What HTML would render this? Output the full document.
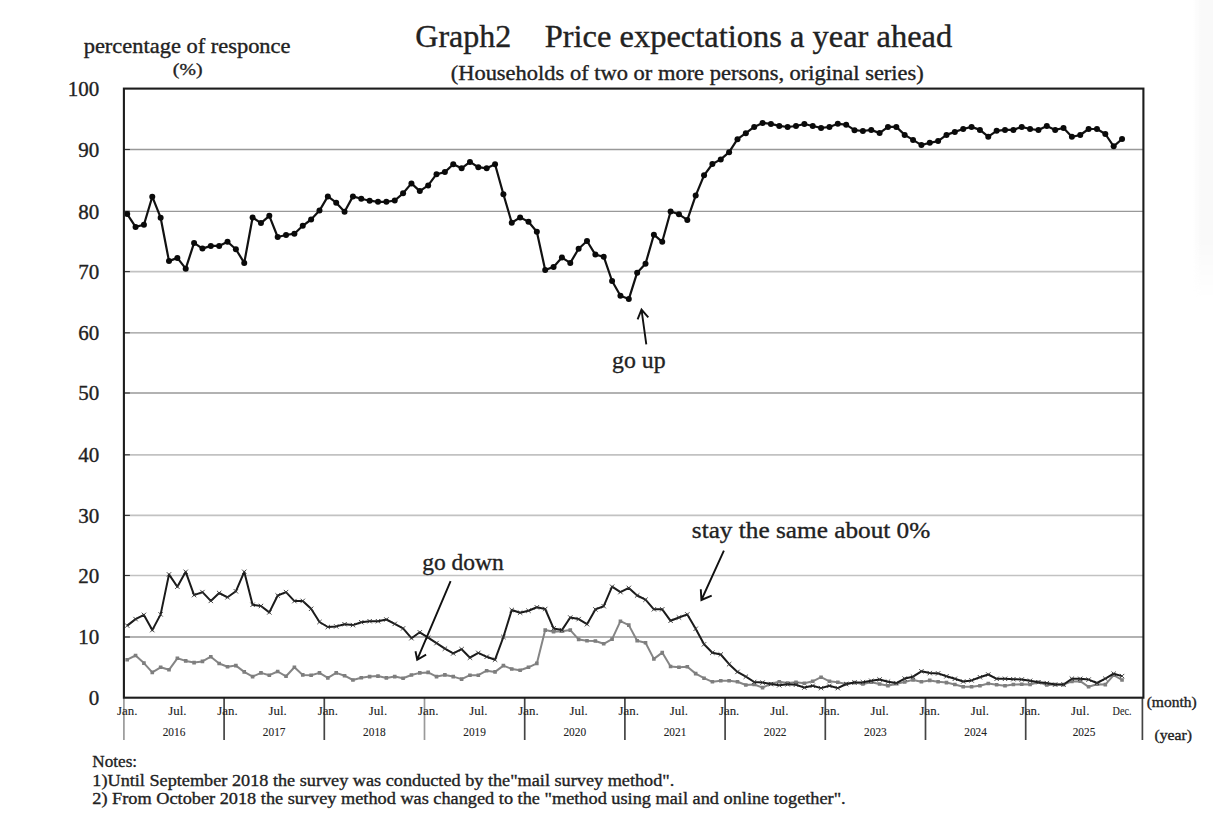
<!DOCTYPE html>
<html><head><meta charset="utf-8"><style>
html,body{margin:0;padding:0;background:#fff;}
body{width:1213px;height:829px;overflow:hidden;}
svg{display:block;}
text{font-family:"Liberation Serif",serif;}
</style></head><body>
<svg width="1213" height="829" viewBox="0 0 1213 829">
<defs><linearGradient id="bandg" x1="0" y1="0" x2="1" y2="0"><stop offset="0" stop-color="#f9f9f9" stop-opacity="0"/><stop offset="0.4" stop-color="#f9f9f9" stop-opacity="1"/><stop offset="1" stop-color="#f9f9f9"/></linearGradient><linearGradient id="bandv" x1="0" y1="0" x2="0" y2="1"><stop offset="0" stop-color="#fff" stop-opacity="1"/><stop offset="0.8" stop-color="#fff" stop-opacity="1"/><stop offset="1" stop-color="#fff" stop-opacity="0"/></linearGradient><mask id="bandm"><rect x="1190" y="0" width="23" height="300" fill="url(#bandv)"/></mask></defs>
<rect x="1193" y="0" width="20" height="300" fill="url(#bandg)" mask="url(#bandm)"/>
<line x1="123.9" y1="637.00" x2="1143.4" y2="637.00" stroke="#999" stroke-width="1.3"/>
<line x1="123.9" y1="637.00" x2="129.9" y2="637.00" stroke="#333" stroke-width="1.1"/>
<line x1="123.9" y1="575.50" x2="1143.4" y2="575.50" stroke="#c2c2c2" stroke-width="1.7"/>
<line x1="123.9" y1="575.50" x2="129.9" y2="575.50" stroke="#333" stroke-width="1.1"/>
<line x1="123.9" y1="515.40" x2="1143.4" y2="515.40" stroke="#c2c2c2" stroke-width="1.7"/>
<line x1="123.9" y1="515.40" x2="129.9" y2="515.40" stroke="#333" stroke-width="1.1"/>
<line x1="123.9" y1="454.80" x2="1143.4" y2="454.80" stroke="#c2c2c2" stroke-width="1.7"/>
<line x1="123.9" y1="454.80" x2="129.9" y2="454.80" stroke="#333" stroke-width="1.1"/>
<line x1="123.9" y1="393.00" x2="1143.4" y2="393.00" stroke="#999" stroke-width="1.3"/>
<line x1="123.9" y1="393.00" x2="129.9" y2="393.00" stroke="#333" stroke-width="1.1"/>
<line x1="123.9" y1="332.80" x2="1143.4" y2="332.80" stroke="#999" stroke-width="1.3"/>
<line x1="123.9" y1="332.80" x2="129.9" y2="332.80" stroke="#333" stroke-width="1.1"/>
<line x1="123.9" y1="271.60" x2="1143.4" y2="271.60" stroke="#c2c2c2" stroke-width="1.7"/>
<line x1="123.9" y1="271.60" x2="129.9" y2="271.60" stroke="#333" stroke-width="1.1"/>
<line x1="123.9" y1="211.30" x2="1143.4" y2="211.30" stroke="#999" stroke-width="1.3"/>
<line x1="123.9" y1="211.30" x2="129.9" y2="211.30" stroke="#333" stroke-width="1.1"/>
<line x1="123.9" y1="149.50" x2="1143.4" y2="149.50" stroke="#999" stroke-width="1.3"/>
<line x1="123.9" y1="149.50" x2="129.9" y2="149.50" stroke="#333" stroke-width="1.1"/>
<line x1="123.90" y1="697.7" x2="123.90" y2="740" stroke="#9a9a9a" stroke-width="1.7"/>
<line x1="224.10" y1="697.7" x2="224.10" y2="740" stroke="#444" stroke-width="1.7"/>
<line x1="324.30" y1="697.7" x2="324.30" y2="740" stroke="#444" stroke-width="1.7"/>
<line x1="424.50" y1="697.7" x2="424.50" y2="740" stroke="#9a9a9a" stroke-width="1.7"/>
<line x1="524.70" y1="697.7" x2="524.70" y2="740" stroke="#444" stroke-width="1.7"/>
<line x1="624.90" y1="697.7" x2="624.90" y2="740" stroke="#444" stroke-width="1.7"/>
<line x1="725.10" y1="697.7" x2="725.10" y2="740" stroke="#444" stroke-width="1.7"/>
<line x1="825.30" y1="697.7" x2="825.30" y2="740" stroke="#444" stroke-width="1.7"/>
<line x1="925.50" y1="697.7" x2="925.50" y2="740" stroke="#444" stroke-width="1.7"/>
<line x1="1025.70" y1="697.7" x2="1025.70" y2="740" stroke="#444" stroke-width="1.7"/>
<line x1="1142.40" y1="697.7" x2="1142.40" y2="740" stroke="#444" stroke-width="1.7"/>
<polyline points="127.20,659.70 135.56,655.50 143.92,663.10 152.28,672.40 160.64,667.30 169.00,669.80 177.36,658.30 185.72,660.90 194.08,662.60 202.44,661.40 210.80,656.70 219.16,663.50 227.52,666.80 235.88,665.60 244.24,671.90 252.60,676.60 260.96,672.90 269.32,675.20 277.68,671.50 286.04,676.30 294.40,667.30 302.76,674.90 311.12,675.20 319.48,672.90 327.84,677.90 336.20,672.90 344.56,675.70 352.92,680.00 361.28,677.80 369.64,676.60 378.00,676.10 386.36,677.90 394.72,676.60 403.08,678.30 411.44,675.00 419.80,672.90 428.16,672.40 436.52,676.60 444.88,674.90 453.24,676.60 461.60,679.10 469.96,675.20 478.32,675.20 486.68,670.70 495.04,671.90 503.40,665.60 511.76,669.00 520.12,670.20 528.48,667.30 536.84,663.40 545.20,630.10 553.56,631.80 561.92,631.30 570.28,630.10 578.64,639.40 587.00,640.80 595.36,641.00 603.72,643.80 612.08,639.10 620.44,621.20 628.80,625.10 637.16,640.80 645.52,642.80 653.88,658.90 662.24,652.60 670.60,666.50 678.96,667.30 687.32,666.80 695.68,673.60 704.04,678.20 712.40,681.80 720.76,680.80 729.12,680.80 737.48,681.70 745.84,685.00 754.20,684.50 762.56,687.60 770.92,683.80 779.28,681.70 787.64,683.00 796.00,682.20 804.36,683.30 812.72,681.30 821.08,677.20 829.44,681.30 837.80,682.20 846.16,684.00 854.52,682.60 862.88,684.00 871.24,682.20 879.60,684.00 887.96,685.80 896.32,683.70 904.68,682.00 913.04,679.90 921.40,681.70 929.76,680.40 938.12,681.70 946.48,682.60 954.84,684.50 963.20,686.70 971.56,686.70 979.92,685.80 988.28,683.50 996.64,684.70 1005.00,685.80 1013.36,684.50 1021.72,684.30 1030.08,684.50 1038.44,682.20 1046.80,684.90 1055.16,684.50 1063.52,684.60 1071.88,681.40 1080.24,681.20 1088.60,686.80 1096.96,684.30 1105.32,684.60 1113.68,675.10 1122.04,680.00" fill="none" stroke="#858585" stroke-width="2.0" stroke-linejoin="round"/>
<path d="M125.40,657.90h3.6v3.6h-3.6zM133.76,653.70h3.6v3.6h-3.6zM142.12,661.30h3.6v3.6h-3.6zM150.48,670.60h3.6v3.6h-3.6zM158.84,665.50h3.6v3.6h-3.6zM167.20,668.00h3.6v3.6h-3.6zM175.56,656.50h3.6v3.6h-3.6zM183.92,659.10h3.6v3.6h-3.6zM192.28,660.80h3.6v3.6h-3.6zM200.64,659.60h3.6v3.6h-3.6zM209.00,654.90h3.6v3.6h-3.6zM217.36,661.70h3.6v3.6h-3.6zM225.72,665.00h3.6v3.6h-3.6zM234.08,663.80h3.6v3.6h-3.6zM242.44,670.10h3.6v3.6h-3.6zM250.80,674.80h3.6v3.6h-3.6zM259.16,671.10h3.6v3.6h-3.6zM267.52,673.40h3.6v3.6h-3.6zM275.88,669.70h3.6v3.6h-3.6zM284.24,674.50h3.6v3.6h-3.6zM292.60,665.50h3.6v3.6h-3.6zM300.96,673.10h3.6v3.6h-3.6zM309.32,673.40h3.6v3.6h-3.6zM317.68,671.10h3.6v3.6h-3.6zM326.04,676.10h3.6v3.6h-3.6zM334.40,671.10h3.6v3.6h-3.6zM342.76,673.90h3.6v3.6h-3.6zM351.12,678.20h3.6v3.6h-3.6zM359.48,676.00h3.6v3.6h-3.6zM367.84,674.80h3.6v3.6h-3.6zM376.20,674.30h3.6v3.6h-3.6zM384.56,676.10h3.6v3.6h-3.6zM392.92,674.80h3.6v3.6h-3.6zM401.28,676.50h3.6v3.6h-3.6zM409.64,673.20h3.6v3.6h-3.6zM418.00,671.10h3.6v3.6h-3.6zM426.36,670.60h3.6v3.6h-3.6zM434.72,674.80h3.6v3.6h-3.6zM443.08,673.10h3.6v3.6h-3.6zM451.44,674.80h3.6v3.6h-3.6zM459.80,677.30h3.6v3.6h-3.6zM468.16,673.40h3.6v3.6h-3.6zM476.52,673.40h3.6v3.6h-3.6zM484.88,668.90h3.6v3.6h-3.6zM493.24,670.10h3.6v3.6h-3.6zM501.60,663.80h3.6v3.6h-3.6zM509.96,667.20h3.6v3.6h-3.6zM518.32,668.40h3.6v3.6h-3.6zM526.68,665.50h3.6v3.6h-3.6zM535.04,661.60h3.6v3.6h-3.6zM543.40,628.30h3.6v3.6h-3.6zM551.76,630.00h3.6v3.6h-3.6zM560.12,629.50h3.6v3.6h-3.6zM568.48,628.30h3.6v3.6h-3.6zM576.84,637.60h3.6v3.6h-3.6zM585.20,639.00h3.6v3.6h-3.6zM593.56,639.20h3.6v3.6h-3.6zM601.92,642.00h3.6v3.6h-3.6zM610.28,637.30h3.6v3.6h-3.6zM618.64,619.40h3.6v3.6h-3.6zM627.00,623.30h3.6v3.6h-3.6zM635.36,639.00h3.6v3.6h-3.6zM643.72,641.00h3.6v3.6h-3.6zM652.08,657.10h3.6v3.6h-3.6zM660.44,650.80h3.6v3.6h-3.6zM668.80,664.70h3.6v3.6h-3.6zM677.16,665.50h3.6v3.6h-3.6zM685.52,665.00h3.6v3.6h-3.6zM693.88,671.80h3.6v3.6h-3.6zM702.24,676.40h3.6v3.6h-3.6zM710.60,680.00h3.6v3.6h-3.6zM718.96,679.00h3.6v3.6h-3.6zM727.32,679.00h3.6v3.6h-3.6zM735.68,679.90h3.6v3.6h-3.6zM744.04,683.20h3.6v3.6h-3.6zM752.40,682.70h3.6v3.6h-3.6zM760.76,685.80h3.6v3.6h-3.6zM769.12,682.00h3.6v3.6h-3.6zM777.48,679.90h3.6v3.6h-3.6zM785.84,681.20h3.6v3.6h-3.6zM794.20,680.40h3.6v3.6h-3.6zM802.56,681.50h3.6v3.6h-3.6zM810.92,679.50h3.6v3.6h-3.6zM819.28,675.40h3.6v3.6h-3.6zM827.64,679.50h3.6v3.6h-3.6zM836.00,680.40h3.6v3.6h-3.6zM844.36,682.20h3.6v3.6h-3.6zM852.72,680.80h3.6v3.6h-3.6zM861.08,682.20h3.6v3.6h-3.6zM869.44,680.40h3.6v3.6h-3.6zM877.80,682.20h3.6v3.6h-3.6zM886.16,684.00h3.6v3.6h-3.6zM894.52,681.90h3.6v3.6h-3.6zM902.88,680.20h3.6v3.6h-3.6zM911.24,678.10h3.6v3.6h-3.6zM919.60,679.90h3.6v3.6h-3.6zM927.96,678.60h3.6v3.6h-3.6zM936.32,679.90h3.6v3.6h-3.6zM944.68,680.80h3.6v3.6h-3.6zM953.04,682.70h3.6v3.6h-3.6zM961.40,684.90h3.6v3.6h-3.6zM969.76,684.90h3.6v3.6h-3.6zM978.12,684.00h3.6v3.6h-3.6zM986.48,681.70h3.6v3.6h-3.6zM994.84,682.90h3.6v3.6h-3.6zM1003.20,684.00h3.6v3.6h-3.6zM1011.56,682.70h3.6v3.6h-3.6zM1019.92,682.50h3.6v3.6h-3.6zM1028.28,682.70h3.6v3.6h-3.6zM1036.64,680.40h3.6v3.6h-3.6zM1045.00,683.10h3.6v3.6h-3.6zM1053.36,682.70h3.6v3.6h-3.6zM1061.72,682.80h3.6v3.6h-3.6zM1070.08,679.60h3.6v3.6h-3.6zM1078.44,679.40h3.6v3.6h-3.6zM1086.80,685.00h3.6v3.6h-3.6zM1095.16,682.50h3.6v3.6h-3.6zM1103.52,682.80h3.6v3.6h-3.6zM1111.88,673.30h3.6v3.6h-3.6zM1120.24,678.20h3.6v3.6h-3.6z" fill="#7e7e7e"/>
<polyline points="127.20,625.60 135.56,619.10 143.92,614.90 152.28,630.10 160.64,614.40 169.00,574.40 177.36,586.70 185.72,571.80 194.08,595.10 202.44,592.10 210.80,600.90 219.16,593.00 227.52,597.30 235.88,591.30 244.24,571.80 252.60,604.80 260.96,606.00 269.32,612.40 277.68,595.50 286.04,592.10 294.40,601.10 302.76,600.90 311.12,608.80 319.48,622.00 327.84,627.00 336.20,626.40 344.56,624.20 352.92,625.10 361.28,622.20 369.64,621.20 378.00,621.20 386.36,619.50 394.72,623.90 403.08,628.40 411.44,638.20 419.80,632.30 428.16,637.70 436.52,643.10 444.88,648.70 453.24,653.40 461.60,649.20 469.96,657.70 478.32,652.90 486.68,656.80 495.04,659.70 503.40,637.00 511.76,610.00 520.12,612.70 528.48,610.70 536.84,607.30 545.20,609.00 553.56,628.40 561.92,630.10 570.28,617.50 578.64,619.10 587.00,624.20 595.36,609.40 603.72,606.20 612.08,586.70 620.44,592.10 628.80,587.90 637.16,595.50 645.52,599.70 653.88,609.30 662.24,609.30 670.60,620.80 678.96,617.50 687.32,614.40 695.68,628.80 704.04,644.30 712.40,652.70 720.76,654.50 729.12,664.20 737.48,671.90 745.84,676.70 754.20,682.00 762.56,682.60 770.92,684.10 779.28,685.30 787.64,684.30 796.00,684.70 804.36,687.60 812.72,685.80 821.08,688.10 829.44,685.80 837.80,688.10 846.16,684.00 854.52,682.50 862.88,682.20 871.24,680.80 879.60,679.50 887.96,681.70 896.32,683.10 904.68,678.60 913.04,676.70 921.40,671.30 929.76,673.10 938.12,673.40 946.48,676.30 954.84,678.80 963.20,681.50 971.56,680.40 979.92,677.20 988.28,674.50 996.64,678.80 1005.00,678.80 1013.36,679.20 1021.72,679.50 1030.08,680.80 1038.44,682.20 1046.80,683.10 1055.16,684.60 1063.52,684.50 1071.88,678.70 1080.24,678.80 1088.60,679.60 1096.96,683.00 1105.32,678.70 1113.68,673.70 1122.04,676.10" fill="none" stroke="#1a1a1a" stroke-width="2.0" stroke-linejoin="round"/>
<path d="M125.00,623.40L129.40,627.80M125.00,627.80L129.40,623.40M133.36,616.90L137.76,621.30M133.36,621.30L137.76,616.90M141.72,612.70L146.12,617.10M141.72,617.10L146.12,612.70M150.08,627.90L154.48,632.30M150.08,632.30L154.48,627.90M158.44,612.20L162.84,616.60M158.44,616.60L162.84,612.20M166.80,572.20L171.20,576.60M166.80,576.60L171.20,572.20M175.16,584.50L179.56,588.90M175.16,588.90L179.56,584.50M183.52,569.60L187.92,574.00M183.52,574.00L187.92,569.60M191.88,592.90L196.28,597.30M191.88,597.30L196.28,592.90M200.24,589.90L204.64,594.30M200.24,594.30L204.64,589.90M208.60,598.70L213.00,603.10M208.60,603.10L213.00,598.70M216.96,590.80L221.36,595.20M216.96,595.20L221.36,590.80M225.32,595.10L229.72,599.50M225.32,599.50L229.72,595.10M233.68,589.10L238.08,593.50M233.68,593.50L238.08,589.10M242.04,569.60L246.44,574.00M242.04,574.00L246.44,569.60M250.40,602.60L254.80,607.00M250.40,607.00L254.80,602.60M258.76,603.80L263.16,608.20M258.76,608.20L263.16,603.80M267.12,610.20L271.52,614.60M267.12,614.60L271.52,610.20M275.48,593.30L279.88,597.70M275.48,597.70L279.88,593.30M283.84,589.90L288.24,594.30M283.84,594.30L288.24,589.90M292.20,598.90L296.60,603.30M292.20,603.30L296.60,598.90M300.56,598.70L304.96,603.10M300.56,603.10L304.96,598.70M308.92,606.60L313.32,611.00M308.92,611.00L313.32,606.60M317.28,619.80L321.68,624.20M317.28,624.20L321.68,619.80M325.64,624.80L330.04,629.20M325.64,629.20L330.04,624.80M334.00,624.20L338.40,628.60M334.00,628.60L338.40,624.20M342.36,622.00L346.76,626.40M342.36,626.40L346.76,622.00M350.72,622.90L355.12,627.30M350.72,627.30L355.12,622.90M359.08,620.00L363.48,624.40M359.08,624.40L363.48,620.00M367.44,619.00L371.84,623.40M367.44,623.40L371.84,619.00M375.80,619.00L380.20,623.40M375.80,623.40L380.20,619.00M384.16,617.30L388.56,621.70M384.16,621.70L388.56,617.30M392.52,621.70L396.92,626.10M392.52,626.10L396.92,621.70M400.88,626.20L405.28,630.60M400.88,630.60L405.28,626.20M409.24,636.00L413.64,640.40M409.24,640.40L413.64,636.00M417.60,630.10L422.00,634.50M417.60,634.50L422.00,630.10M425.96,635.50L430.36,639.90M425.96,639.90L430.36,635.50M434.32,640.90L438.72,645.30M434.32,645.30L438.72,640.90M442.68,646.50L447.08,650.90M442.68,650.90L447.08,646.50M451.04,651.20L455.44,655.60M451.04,655.60L455.44,651.20M459.40,647.00L463.80,651.40M459.40,651.40L463.80,647.00M467.76,655.50L472.16,659.90M467.76,659.90L472.16,655.50M476.12,650.70L480.52,655.10M476.12,655.10L480.52,650.70M484.48,654.60L488.88,659.00M484.48,659.00L488.88,654.60M492.84,657.50L497.24,661.90M492.84,661.90L497.24,657.50M501.20,634.80L505.60,639.20M501.20,639.20L505.60,634.80M509.56,607.80L513.96,612.20M509.56,612.20L513.96,607.80M517.92,610.50L522.32,614.90M517.92,614.90L522.32,610.50M526.28,608.50L530.68,612.90M526.28,612.90L530.68,608.50M534.64,605.10L539.04,609.50M534.64,609.50L539.04,605.10M543.00,606.80L547.40,611.20M543.00,611.20L547.40,606.80M551.36,626.20L555.76,630.60M551.36,630.60L555.76,626.20M559.72,627.90L564.12,632.30M559.72,632.30L564.12,627.90M568.08,615.30L572.48,619.70M568.08,619.70L572.48,615.30M576.44,616.90L580.84,621.30M576.44,621.30L580.84,616.90M584.80,622.00L589.20,626.40M584.80,626.40L589.20,622.00M593.16,607.20L597.56,611.60M593.16,611.60L597.56,607.20M601.52,604.00L605.92,608.40M601.52,608.40L605.92,604.00M609.88,584.50L614.28,588.90M609.88,588.90L614.28,584.50M618.24,589.90L622.64,594.30M618.24,594.30L622.64,589.90M626.60,585.70L631.00,590.10M626.60,590.10L631.00,585.70M634.96,593.30L639.36,597.70M634.96,597.70L639.36,593.30M643.32,597.50L647.72,601.90M643.32,601.90L647.72,597.50M651.68,607.10L656.08,611.50M651.68,611.50L656.08,607.10M660.04,607.10L664.44,611.50M660.04,611.50L664.44,607.10M668.40,618.60L672.80,623.00M668.40,623.00L672.80,618.60M676.76,615.30L681.16,619.70M676.76,619.70L681.16,615.30M685.12,612.20L689.52,616.60M685.12,616.60L689.52,612.20M693.48,626.60L697.88,631.00M693.48,631.00L697.88,626.60M701.84,642.10L706.24,646.50M701.84,646.50L706.24,642.10M710.20,650.50L714.60,654.90M710.20,654.90L714.60,650.50M718.56,652.30L722.96,656.70M718.56,656.70L722.96,652.30M726.92,662.00L731.32,666.40M726.92,666.40L731.32,662.00M735.28,669.70L739.68,674.10M735.28,674.10L739.68,669.70M743.64,674.50L748.04,678.90M743.64,678.90L748.04,674.50M752.00,679.80L756.40,684.20M752.00,684.20L756.40,679.80M760.36,680.40L764.76,684.80M760.36,684.80L764.76,680.40M768.72,681.90L773.12,686.30M768.72,686.30L773.12,681.90M777.08,683.10L781.48,687.50M777.08,687.50L781.48,683.10M785.44,682.10L789.84,686.50M785.44,686.50L789.84,682.10M793.80,682.50L798.20,686.90M793.80,686.90L798.20,682.50M802.16,685.40L806.56,689.80M802.16,689.80L806.56,685.40M810.52,683.60L814.92,688.00M810.52,688.00L814.92,683.60M818.88,685.90L823.28,690.30M818.88,690.30L823.28,685.90M827.24,683.60L831.64,688.00M827.24,688.00L831.64,683.60M835.60,685.90L840.00,690.30M835.60,690.30L840.00,685.90M843.96,681.80L848.36,686.20M843.96,686.20L848.36,681.80M852.32,680.30L856.72,684.70M852.32,684.70L856.72,680.30M860.68,680.00L865.08,684.40M860.68,684.40L865.08,680.00M869.04,678.60L873.44,683.00M869.04,683.00L873.44,678.60M877.40,677.30L881.80,681.70M877.40,681.70L881.80,677.30M885.76,679.50L890.16,683.90M885.76,683.90L890.16,679.50M894.12,680.90L898.52,685.30M894.12,685.30L898.52,680.90M902.48,676.40L906.88,680.80M902.48,680.80L906.88,676.40M910.84,674.50L915.24,678.90M910.84,678.90L915.24,674.50M919.20,669.10L923.60,673.50M919.20,673.50L923.60,669.10M927.56,670.90L931.96,675.30M927.56,675.30L931.96,670.90M935.92,671.20L940.32,675.60M935.92,675.60L940.32,671.20M944.28,674.10L948.68,678.50M944.28,678.50L948.68,674.10M952.64,676.60L957.04,681.00M952.64,681.00L957.04,676.60M961.00,679.30L965.40,683.70M961.00,683.70L965.40,679.30M969.36,678.20L973.76,682.60M969.36,682.60L973.76,678.20M977.72,675.00L982.12,679.40M977.72,679.40L982.12,675.00M986.08,672.30L990.48,676.70M986.08,676.70L990.48,672.30M994.44,676.60L998.84,681.00M994.44,681.00L998.84,676.60M1002.80,676.60L1007.20,681.00M1002.80,681.00L1007.20,676.60M1011.16,677.00L1015.56,681.40M1011.16,681.40L1015.56,677.00M1019.52,677.30L1023.92,681.70M1019.52,681.70L1023.92,677.30M1027.88,678.60L1032.28,683.00M1027.88,683.00L1032.28,678.60M1036.24,680.00L1040.64,684.40M1036.24,684.40L1040.64,680.00M1044.60,680.90L1049.00,685.30M1044.60,685.30L1049.00,680.90M1052.96,682.40L1057.36,686.80M1052.96,686.80L1057.36,682.40M1061.32,682.30L1065.72,686.70M1061.32,686.70L1065.72,682.30M1069.68,676.50L1074.08,680.90M1069.68,680.90L1074.08,676.50M1078.04,676.60L1082.44,681.00M1078.04,681.00L1082.44,676.60M1086.40,677.40L1090.80,681.80M1086.40,681.80L1090.80,677.40M1094.76,680.80L1099.16,685.20M1094.76,685.20L1099.16,680.80M1103.12,676.50L1107.52,680.90M1103.12,680.90L1107.52,676.50M1111.48,671.50L1115.88,675.90M1111.48,675.90L1115.88,671.50M1119.84,673.90L1124.24,678.30M1119.84,678.30L1124.24,673.90" stroke="#333" stroke-width="0.9" fill="none"/>
<polyline points="127.20,214.10 135.56,226.90 143.92,224.70 152.28,196.70 160.64,217.70 169.00,261.10 177.36,257.90 185.72,268.70 194.08,242.90 202.44,248.60 210.80,245.90 219.16,245.90 227.52,241.70 235.88,249.20 244.24,262.90 252.60,217.50 260.96,223.10 269.32,215.80 277.68,237.00 286.04,235.00 294.40,233.70 302.76,225.80 311.12,219.50 319.48,210.60 327.84,196.40 336.20,202.70 344.56,211.70 352.92,196.40 361.28,198.70 369.64,200.70 378.00,201.80 386.36,201.80 394.72,200.50 403.08,193.30 411.44,183.40 419.80,191.10 428.16,185.40 436.52,174.20 444.88,172.10 453.24,164.20 461.60,168.30 469.96,161.90 478.32,167.20 486.68,168.30 495.04,164.20 503.40,194.30 511.76,222.70 520.12,217.40 528.48,221.80 536.84,231.80 545.20,270.00 553.56,266.90 561.92,257.60 570.28,262.90 578.64,248.70 587.00,241.00 595.36,254.60 603.72,256.70 612.08,281.00 620.44,295.80 628.80,299.10 637.16,272.70 645.52,263.80 653.88,234.70 662.24,241.80 670.60,211.50 678.96,214.30 687.32,219.90 695.68,195.60 704.04,175.30 712.40,164.00 720.76,159.40 729.12,152.20 737.48,139.20 745.84,133.20 754.20,126.90 762.56,122.90 770.92,123.90 779.28,125.90 787.64,127.00 796.00,126.00 804.36,124.00 812.72,126.00 821.08,127.90 829.44,127.00 837.80,123.80 846.16,124.70 854.52,130.20 862.88,131.00 871.24,129.90 879.60,133.10 887.96,126.90 896.32,126.90 904.68,134.90 913.04,139.90 921.40,145.10 929.76,142.80 938.12,141.10 946.48,134.90 954.84,131.90 963.20,129.00 971.56,126.90 979.92,129.90 988.28,136.70 996.64,130.80 1005.00,129.90 1013.36,129.90 1021.72,126.90 1030.08,129.00 1038.44,130.10 1046.80,125.90 1055.16,129.90 1063.52,128.00 1071.88,136.80 1080.24,135.00 1088.60,129.00 1096.96,129.00 1105.32,134.00 1113.68,146.30 1122.04,139.00" fill="none" stroke="#111" stroke-width="2.2" stroke-linejoin="round"/>
<g fill="#0a0a0a"><circle cx="127.20" cy="214.10" r="3"/><circle cx="135.56" cy="226.90" r="3"/><circle cx="143.92" cy="224.70" r="3"/><circle cx="152.28" cy="196.70" r="3"/><circle cx="160.64" cy="217.70" r="3"/><circle cx="169.00" cy="261.10" r="3"/><circle cx="177.36" cy="257.90" r="3"/><circle cx="185.72" cy="268.70" r="3"/><circle cx="194.08" cy="242.90" r="3"/><circle cx="202.44" cy="248.60" r="3"/><circle cx="210.80" cy="245.90" r="3"/><circle cx="219.16" cy="245.90" r="3"/><circle cx="227.52" cy="241.70" r="3"/><circle cx="235.88" cy="249.20" r="3"/><circle cx="244.24" cy="262.90" r="3"/><circle cx="252.60" cy="217.50" r="3"/><circle cx="260.96" cy="223.10" r="3"/><circle cx="269.32" cy="215.80" r="3"/><circle cx="277.68" cy="237.00" r="3"/><circle cx="286.04" cy="235.00" r="3"/><circle cx="294.40" cy="233.70" r="3"/><circle cx="302.76" cy="225.80" r="3"/><circle cx="311.12" cy="219.50" r="3"/><circle cx="319.48" cy="210.60" r="3"/><circle cx="327.84" cy="196.40" r="3"/><circle cx="336.20" cy="202.70" r="3"/><circle cx="344.56" cy="211.70" r="3"/><circle cx="352.92" cy="196.40" r="3"/><circle cx="361.28" cy="198.70" r="3"/><circle cx="369.64" cy="200.70" r="3"/><circle cx="378.00" cy="201.80" r="3"/><circle cx="386.36" cy="201.80" r="3"/><circle cx="394.72" cy="200.50" r="3"/><circle cx="403.08" cy="193.30" r="3"/><circle cx="411.44" cy="183.40" r="3"/><circle cx="419.80" cy="191.10" r="3"/><circle cx="428.16" cy="185.40" r="3"/><circle cx="436.52" cy="174.20" r="3"/><circle cx="444.88" cy="172.10" r="3"/><circle cx="453.24" cy="164.20" r="3"/><circle cx="461.60" cy="168.30" r="3"/><circle cx="469.96" cy="161.90" r="3"/><circle cx="478.32" cy="167.20" r="3"/><circle cx="486.68" cy="168.30" r="3"/><circle cx="495.04" cy="164.20" r="3"/><circle cx="503.40" cy="194.30" r="3"/><circle cx="511.76" cy="222.70" r="3"/><circle cx="520.12" cy="217.40" r="3"/><circle cx="528.48" cy="221.80" r="3"/><circle cx="536.84" cy="231.80" r="3"/><circle cx="545.20" cy="270.00" r="3"/><circle cx="553.56" cy="266.90" r="3"/><circle cx="561.92" cy="257.60" r="3"/><circle cx="570.28" cy="262.90" r="3"/><circle cx="578.64" cy="248.70" r="3"/><circle cx="587.00" cy="241.00" r="3"/><circle cx="595.36" cy="254.60" r="3"/><circle cx="603.72" cy="256.70" r="3"/><circle cx="612.08" cy="281.00" r="3"/><circle cx="620.44" cy="295.80" r="3"/><circle cx="628.80" cy="299.10" r="3"/><circle cx="637.16" cy="272.70" r="3"/><circle cx="645.52" cy="263.80" r="3"/><circle cx="653.88" cy="234.70" r="3"/><circle cx="662.24" cy="241.80" r="3"/><circle cx="670.60" cy="211.50" r="3"/><circle cx="678.96" cy="214.30" r="3"/><circle cx="687.32" cy="219.90" r="3"/><circle cx="695.68" cy="195.60" r="3"/><circle cx="704.04" cy="175.30" r="3"/><circle cx="712.40" cy="164.00" r="3"/><circle cx="720.76" cy="159.40" r="3"/><circle cx="729.12" cy="152.20" r="3"/><circle cx="737.48" cy="139.20" r="3"/><circle cx="745.84" cy="133.20" r="3"/><circle cx="754.20" cy="126.90" r="3"/><circle cx="762.56" cy="122.90" r="3"/><circle cx="770.92" cy="123.90" r="3"/><circle cx="779.28" cy="125.90" r="3"/><circle cx="787.64" cy="127.00" r="3"/><circle cx="796.00" cy="126.00" r="3"/><circle cx="804.36" cy="124.00" r="3"/><circle cx="812.72" cy="126.00" r="3"/><circle cx="821.08" cy="127.90" r="3"/><circle cx="829.44" cy="127.00" r="3"/><circle cx="837.80" cy="123.80" r="3"/><circle cx="846.16" cy="124.70" r="3"/><circle cx="854.52" cy="130.20" r="3"/><circle cx="862.88" cy="131.00" r="3"/><circle cx="871.24" cy="129.90" r="3"/><circle cx="879.60" cy="133.10" r="3"/><circle cx="887.96" cy="126.90" r="3"/><circle cx="896.32" cy="126.90" r="3"/><circle cx="904.68" cy="134.90" r="3"/><circle cx="913.04" cy="139.90" r="3"/><circle cx="921.40" cy="145.10" r="3"/><circle cx="929.76" cy="142.80" r="3"/><circle cx="938.12" cy="141.10" r="3"/><circle cx="946.48" cy="134.90" r="3"/><circle cx="954.84" cy="131.90" r="3"/><circle cx="963.20" cy="129.00" r="3"/><circle cx="971.56" cy="126.90" r="3"/><circle cx="979.92" cy="129.90" r="3"/><circle cx="988.28" cy="136.70" r="3"/><circle cx="996.64" cy="130.80" r="3"/><circle cx="1005.00" cy="129.90" r="3"/><circle cx="1013.36" cy="129.90" r="3"/><circle cx="1021.72" cy="126.90" r="3"/><circle cx="1030.08" cy="129.00" r="3"/><circle cx="1038.44" cy="130.10" r="3"/><circle cx="1046.80" cy="125.90" r="3"/><circle cx="1055.16" cy="129.90" r="3"/><circle cx="1063.52" cy="128.00" r="3"/><circle cx="1071.88" cy="136.80" r="3"/><circle cx="1080.24" cy="135.00" r="3"/><circle cx="1088.60" cy="129.00" r="3"/><circle cx="1096.96" cy="129.00" r="3"/><circle cx="1105.32" cy="134.00" r="3"/><circle cx="1113.68" cy="146.30" r="3"/><circle cx="1122.04" cy="139.00" r="3"/></g>
<rect x="123.9" y="88.6" width="1019.50" height="609.10" fill="none" stroke="#1c1c1c" stroke-width="2.1"/>
<path d="M646.3,344.4L641.5,309.6M637.6,319.3L641.5,309.6L648.3,317.4" stroke="#111" stroke-width="1.9" fill="none" stroke-linecap="butt" stroke-linejoin="miter"/>
<path d="M450.6,581.1L417.2,659.7M415.5,651.2L417.2,659.7L426.1,654.6" stroke="#111" stroke-width="1.9" fill="none" stroke-linecap="butt" stroke-linejoin="miter"/>
<path d="M723.9,550.7L701.4,600.0M700.8,589.3L701.4,600.0L711.7,595.7" stroke="#111" stroke-width="1.9" fill="none" stroke-linecap="butt" stroke-linejoin="miter"/>
<text x="415.30" y="47.20" font-size="31.2" textLength="96.00" lengthAdjust="spacingAndGlyphs" fill="#222" stroke="#222" stroke-width="0.35">Graph2</text>
<text x="544.70" y="47.20" font-size="31.2" textLength="407.59" lengthAdjust="spacingAndGlyphs" fill="#222" stroke="#222" stroke-width="0.35">Price expectations a year ahead</text>
<text x="450.70" y="79.80" font-size="20.6" textLength="473.11" lengthAdjust="spacingAndGlyphs" fill="#222" stroke="#222" stroke-width="0.35">(Households of two or more persons, original series)</text>
<text x="83.70" y="53.30" font-size="20.4" textLength="206.80" lengthAdjust="spacingAndGlyphs" fill="#222" stroke="#222" stroke-width="0.35">percentage of responce</text>
<text x="172.80" y="74.70" font-size="17.6" textLength="29.70" lengthAdjust="spacingAndGlyphs" fill="#222" stroke="#222" stroke-width="0.35">(%)</text>
<text x="88.80" y="704.90" font-size="21" textLength="10.50" lengthAdjust="spacingAndGlyphs" fill="#222" stroke="#222" stroke-width="0.35">0</text>
<text x="78.30" y="644.20" font-size="21" textLength="21.00" lengthAdjust="spacingAndGlyphs" fill="#222" stroke="#222" stroke-width="0.35">10</text>
<text x="78.30" y="582.70" font-size="21" textLength="21.00" lengthAdjust="spacingAndGlyphs" fill="#222" stroke="#222" stroke-width="0.35">20</text>
<text x="78.30" y="522.60" font-size="21" textLength="21.00" lengthAdjust="spacingAndGlyphs" fill="#222" stroke="#222" stroke-width="0.35">30</text>
<text x="78.30" y="462.00" font-size="21" textLength="21.00" lengthAdjust="spacingAndGlyphs" fill="#222" stroke="#222" stroke-width="0.35">40</text>
<text x="78.30" y="400.20" font-size="21" textLength="21.00" lengthAdjust="spacingAndGlyphs" fill="#222" stroke="#222" stroke-width="0.35">50</text>
<text x="78.30" y="340.00" font-size="21" textLength="21.00" lengthAdjust="spacingAndGlyphs" fill="#222" stroke="#222" stroke-width="0.35">60</text>
<text x="78.30" y="278.80" font-size="21" textLength="21.00" lengthAdjust="spacingAndGlyphs" fill="#222" stroke="#222" stroke-width="0.35">70</text>
<text x="78.30" y="218.50" font-size="21" textLength="21.00" lengthAdjust="spacingAndGlyphs" fill="#222" stroke="#222" stroke-width="0.35">80</text>
<text x="78.30" y="156.70" font-size="21" textLength="21.00" lengthAdjust="spacingAndGlyphs" fill="#222" stroke="#222" stroke-width="0.35">90</text>
<text x="67.80" y="95.80" font-size="21" textLength="31.50" lengthAdjust="spacingAndGlyphs" fill="#222" stroke="#222" stroke-width="0.35">100</text>
<text x="612.10" y="368.00" font-size="23.6" textLength="53.50" lengthAdjust="spacingAndGlyphs" fill="#222" stroke="#222" stroke-width="0.35">go up</text>
<text x="422.20" y="569.90" font-size="23.6" textLength="81.60" lengthAdjust="spacingAndGlyphs" fill="#222" stroke="#222" stroke-width="0.35">go down</text>
<text x="691.80" y="537.70" font-size="23.6" textLength="238.50" lengthAdjust="spacingAndGlyphs" fill="#222" stroke="#222" stroke-width="0.35">stay the same about 0%</text>
<text x="1146.70" y="706.90" font-size="14.8" textLength="50.10" lengthAdjust="spacingAndGlyphs" fill="#222" stroke="#222" stroke-width="0.35">(month)</text>
<text x="1154.50" y="739.90" font-size="15.2" textLength="37.60" lengthAdjust="spacingAndGlyphs" fill="#222" stroke="#222" stroke-width="0.35">(year)</text>
<text x="92.30" y="766.50" font-size="17.2" textLength="44.80" lengthAdjust="spacingAndGlyphs" fill="#222" stroke="#222" stroke-width="0.35">Notes:</text>
<text x="92.30" y="785.60" font-size="17.2" textLength="582.00" lengthAdjust="spacingAndGlyphs" fill="#222" stroke="#222" stroke-width="0.35">1)Until September 2018 the survey was conducted by the&quot;mail survey method&quot;.</text>
<text x="92.30" y="804.40" font-size="17.2" textLength="753.40" lengthAdjust="spacingAndGlyphs" fill="#222" stroke="#222" stroke-width="0.35">2) From October 2018 the survey method was changed to the &quot;method using mail and online together&quot;.</text>
<text x="117.01" y="714.70" font-size="11.5" textLength="20.39" lengthAdjust="spacingAndGlyphs" fill="#222" stroke="#222" stroke-width="0.1">Jan.</text>
<text x="168.23" y="714.70" font-size="11.5" textLength="18.25" lengthAdjust="spacingAndGlyphs" fill="#222" stroke="#222" stroke-width="0.1">Jul.</text>
<text x="162.65" y="736.10" font-size="12.2" textLength="22.70" lengthAdjust="spacingAndGlyphs" fill="#222" stroke="#222" stroke-width="0.1">2016</text>
<text x="217.33" y="714.70" font-size="11.5" textLength="20.39" lengthAdjust="spacingAndGlyphs" fill="#222" stroke="#222" stroke-width="0.1">Jan.</text>
<text x="268.55" y="714.70" font-size="11.5" textLength="18.25" lengthAdjust="spacingAndGlyphs" fill="#222" stroke="#222" stroke-width="0.1">Jul.</text>
<text x="262.85" y="736.10" font-size="12.2" textLength="22.70" lengthAdjust="spacingAndGlyphs" fill="#222" stroke="#222" stroke-width="0.1">2017</text>
<text x="317.65" y="714.70" font-size="11.5" textLength="20.39" lengthAdjust="spacingAndGlyphs" fill="#222" stroke="#222" stroke-width="0.1">Jan.</text>
<text x="368.87" y="714.70" font-size="11.5" textLength="18.25" lengthAdjust="spacingAndGlyphs" fill="#222" stroke="#222" stroke-width="0.1">Jul.</text>
<text x="363.05" y="736.10" font-size="12.2" textLength="22.70" lengthAdjust="spacingAndGlyphs" fill="#222" stroke="#222" stroke-width="0.1">2018</text>
<text x="417.97" y="714.70" font-size="11.5" textLength="20.39" lengthAdjust="spacingAndGlyphs" fill="#222" stroke="#222" stroke-width="0.1">Jan.</text>
<text x="469.19" y="714.70" font-size="11.5" textLength="18.25" lengthAdjust="spacingAndGlyphs" fill="#222" stroke="#222" stroke-width="0.1">Jul.</text>
<text x="463.25" y="736.10" font-size="12.2" textLength="22.70" lengthAdjust="spacingAndGlyphs" fill="#222" stroke="#222" stroke-width="0.1">2019</text>
<text x="518.29" y="714.70" font-size="11.5" textLength="20.39" lengthAdjust="spacingAndGlyphs" fill="#222" stroke="#222" stroke-width="0.1">Jan.</text>
<text x="569.51" y="714.70" font-size="11.5" textLength="18.25" lengthAdjust="spacingAndGlyphs" fill="#222" stroke="#222" stroke-width="0.1">Jul.</text>
<text x="563.45" y="736.10" font-size="12.2" textLength="22.70" lengthAdjust="spacingAndGlyphs" fill="#222" stroke="#222" stroke-width="0.1">2020</text>
<text x="618.61" y="714.70" font-size="11.5" textLength="20.39" lengthAdjust="spacingAndGlyphs" fill="#222" stroke="#222" stroke-width="0.1">Jan.</text>
<text x="669.83" y="714.70" font-size="11.5" textLength="18.25" lengthAdjust="spacingAndGlyphs" fill="#222" stroke="#222" stroke-width="0.1">Jul.</text>
<text x="663.65" y="736.10" font-size="12.2" textLength="22.70" lengthAdjust="spacingAndGlyphs" fill="#222" stroke="#222" stroke-width="0.1">2021</text>
<text x="718.93" y="714.70" font-size="11.5" textLength="20.39" lengthAdjust="spacingAndGlyphs" fill="#222" stroke="#222" stroke-width="0.1">Jan.</text>
<text x="770.15" y="714.70" font-size="11.5" textLength="18.25" lengthAdjust="spacingAndGlyphs" fill="#222" stroke="#222" stroke-width="0.1">Jul.</text>
<text x="763.85" y="736.10" font-size="12.2" textLength="22.70" lengthAdjust="spacingAndGlyphs" fill="#222" stroke="#222" stroke-width="0.1">2022</text>
<text x="819.25" y="714.70" font-size="11.5" textLength="20.39" lengthAdjust="spacingAndGlyphs" fill="#222" stroke="#222" stroke-width="0.1">Jan.</text>
<text x="870.47" y="714.70" font-size="11.5" textLength="18.25" lengthAdjust="spacingAndGlyphs" fill="#222" stroke="#222" stroke-width="0.1">Jul.</text>
<text x="864.05" y="736.10" font-size="12.2" textLength="22.70" lengthAdjust="spacingAndGlyphs" fill="#222" stroke="#222" stroke-width="0.1">2023</text>
<text x="919.57" y="714.70" font-size="11.5" textLength="20.39" lengthAdjust="spacingAndGlyphs" fill="#222" stroke="#222" stroke-width="0.1">Jan.</text>
<text x="970.79" y="714.70" font-size="11.5" textLength="18.25" lengthAdjust="spacingAndGlyphs" fill="#222" stroke="#222" stroke-width="0.1">Jul.</text>
<text x="964.25" y="736.10" font-size="12.2" textLength="22.70" lengthAdjust="spacingAndGlyphs" fill="#222" stroke="#222" stroke-width="0.1">2024</text>
<text x="1019.89" y="714.70" font-size="11.5" textLength="20.39" lengthAdjust="spacingAndGlyphs" fill="#222" stroke="#222" stroke-width="0.1">Jan.</text>
<text x="1071.11" y="714.70" font-size="11.5" textLength="18.25" lengthAdjust="spacingAndGlyphs" fill="#222" stroke="#222" stroke-width="0.1">Jul.</text>
<text x="1072.70" y="736.10" font-size="12.2" textLength="22.70" lengthAdjust="spacingAndGlyphs" fill="#222" stroke="#222" stroke-width="0.1">2025</text>
<text x="1112.50" y="714.70" font-size="11.5" textLength="19.00" lengthAdjust="spacingAndGlyphs" fill="#222" stroke="#222" stroke-width="0.1">Dec.</text>
</svg>
</body></html>
